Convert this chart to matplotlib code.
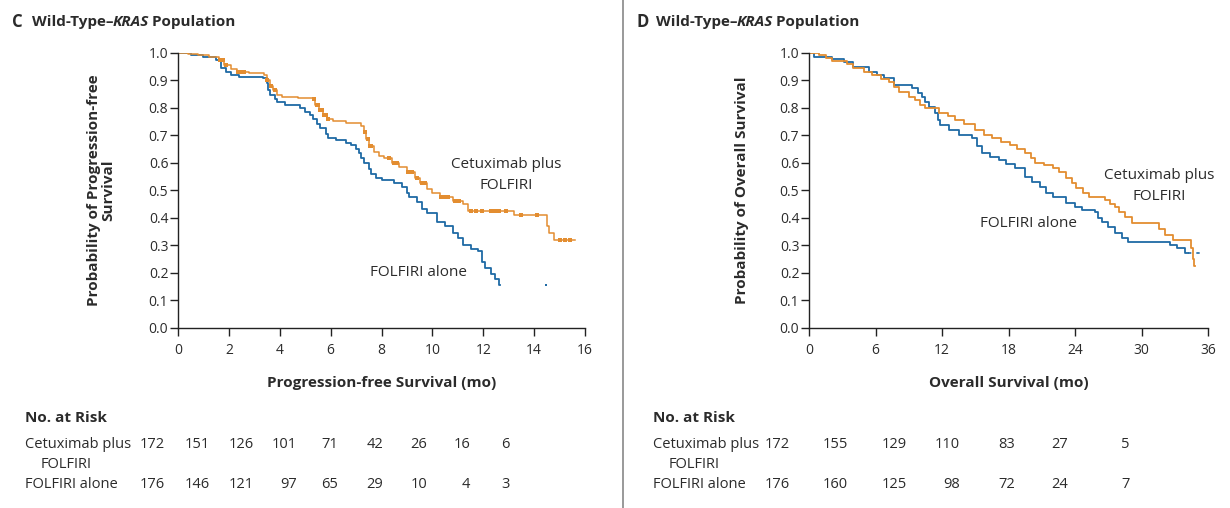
import numpy as np
import matplotlib.pyplot as plt

plt.rcParams['font.family'] = ['Open Sans', 'DejaVu Sans']

# Kaplan-Meier steps (months, probability)
pfs_cetux_t = [0, 0.4, 0.8, 1.2, 1.6, 1.8, 2.1, 2.3, 2.8, 3.4, 3.5, 3.6, 3.75, 3.9, 4.1, 4.7, 5.3,
               5.4, 5.55, 5.7, 5.85, 6.1, 6.6, 7.2, 7.3, 7.4, 7.5, 7.7, 7.9, 8.1, 8.4, 8.7, 9.0,
               9.3, 9.5, 9.8, 10.0, 10.3, 10.8, 11.2, 11.4, 13.2, 14.5, 14.6, 14.8, 15.6]
pfs_cetux_s = [1.0, 0.995, 0.99, 0.985, 0.975, 0.955, 0.94, 0.93, 0.925, 0.918, 0.90, 0.88, 0.865,
               0.845, 0.84, 0.835, 0.83, 0.81, 0.79, 0.775, 0.76, 0.75, 0.745, 0.735, 0.71, 0.685,
               0.66, 0.64, 0.625, 0.615, 0.60, 0.585, 0.565, 0.545, 0.525, 0.505, 0.49, 0.475,
               0.46, 0.45, 0.425, 0.41, 0.37, 0.345, 0.32, 0.32]
pfs_cetux_cens = [1.65, 1.75, 1.9, 2.35, 2.5, 2.6, 3.5, 3.65, 3.8, 5.35, 5.45, 5.5, 5.6, 5.65, 5.75,
                  5.8, 5.9, 7.35, 7.45, 7.55, 7.6, 8.3, 8.5, 8.6, 9.05, 9.2, 9.4, 9.6, 9.7, 10.35,
                  10.5, 10.6, 10.9, 11.05, 11.5, 11.7, 11.95, 12.3, 12.45, 12.6, 12.9, 13.5, 14.1,
                  15.0, 15.2, 15.4]

pfs_folfiri_t = [0, 0.5, 1.0, 1.5, 1.7, 1.9, 2.1, 2.4, 3.35, 3.5, 3.55, 3.62, 3.8, 3.9, 4.2, 4.8,
                 5.0, 5.2, 5.3, 5.45, 5.6, 5.8, 5.9, 6.2, 6.6, 6.8, 7.0, 7.1, 7.2, 7.3, 7.5, 7.6,
                 7.8, 8.0, 8.5, 8.8, 9.0, 9.1, 9.4, 9.6, 9.8, 10.2, 10.5, 10.8, 11.0, 11.2, 11.5,
                 11.8, 11.95, 12.05, 12.3, 12.45, 12.6, 12.65]
pfs_folfiri_s = [1.0, 0.99, 0.984, 0.973, 0.944, 0.93, 0.918, 0.911, 0.907, 0.89, 0.865, 0.845,
                 0.83, 0.82, 0.81, 0.80, 0.784, 0.772, 0.76, 0.74, 0.726, 0.705, 0.69, 0.682,
                 0.67, 0.664, 0.65, 0.635, 0.615, 0.598, 0.575, 0.56, 0.545, 0.536, 0.525, 0.51,
                 0.49, 0.475, 0.455, 0.43, 0.415, 0.385, 0.37, 0.345, 0.325, 0.30, 0.285, 0.28,
                 0.24, 0.215, 0.195, 0.175, 0.155, 0.155]
pfs_folfiri_last = (14.45, 0.155)

os_cetux_t = [0, 0.9, 1.5, 2.1, 3.4, 4.0, 5.0, 5.7, 6.5, 7.2, 7.7, 8.1, 9.0, 9.6, 10.0, 10.5, 11.7,
              12.5, 13.2, 14.0, 15.0, 15.8, 16.5, 17.3, 18.1, 18.8, 19.5, 20.0, 20.4, 21.2, 22.0,
              22.6, 23.2, 23.7, 24.1, 24.7, 25.3, 26.7, 27.2, 27.6, 28.0, 28.5, 29.1, 31.6, 32.1,
              32.8, 34.5, 34.65, 34.75, 34.8]
os_cetux_s = [1.0, 0.99, 0.98, 0.97, 0.96, 0.945, 0.93, 0.918, 0.905, 0.893, 0.875, 0.856, 0.84,
              0.827, 0.81, 0.798, 0.78, 0.768, 0.755, 0.74, 0.718, 0.70, 0.689, 0.675, 0.664, 0.65,
              0.635, 0.615, 0.598, 0.59, 0.58, 0.565, 0.544, 0.525, 0.507, 0.49, 0.475, 0.464,
              0.45, 0.438, 0.42, 0.402, 0.38, 0.36, 0.336, 0.318, 0.29, 0.25, 0.225, 0.225]

os_folfiri_t = [0, 0.45, 2.1, 3.2, 4.0, 5.4, 6.1, 6.8, 7.7, 9.3, 9.8, 10.2, 10.5, 10.8, 11.4, 11.6,
                11.8, 12.6, 13.5, 14.7, 15.2, 15.6, 16.3, 17.1, 17.8, 18.6, 19.5, 20.1, 20.8, 21.4,
                22.0, 23.2, 24.0, 24.6, 25.8, 26.1, 26.4, 27.0, 27.6, 28.2, 28.8, 32.6, 33.2, 33.9,
                34.2]
os_folfiri_s = [1.0, 0.984, 0.978, 0.966, 0.947, 0.93, 0.92, 0.907, 0.882, 0.87, 0.855, 0.838,
                0.82, 0.802, 0.78, 0.755, 0.736, 0.718, 0.70, 0.689, 0.66, 0.635, 0.62, 0.609,
                0.595, 0.58, 0.547, 0.53, 0.51, 0.49, 0.475, 0.453, 0.44, 0.427, 0.42, 0.40,
                0.384, 0.365, 0.344, 0.325, 0.311, 0.30, 0.289, 0.271, 0.271]
os_folfiri_tail = [34.2, 35.6]

# numbers at risk
pfs_risk_cetux = [172, 151, 126, 101, 71, 42, 26, 16, 6]
pfs_risk_folfiri = [176, 146, 121, 97, 65, 29, 10, 4, 3]
os_risk_cetux = [172, 155, 129, 110, 83, 27, 5]
os_risk_folfiri = [176, 160, 125, 98, 72, 24, 7]

BLUE = '#1f6aa5'
ORANGE = '#e38d30'
TXT = '#2b2b2b'
W, H = 1230, 508
FS = 10.5

fig = plt.figure(figsize=(12.3, 5.08), dpi=100)


def px_axes(x0, x1, y0, y1):
    return fig.add_axes([x0 / W, 1 - y1 / H, (x1 - x0) / W, (y1 - y0) / H])


def style_axes(ax, xmax, xstep):
    for s in ['top', 'right']:
        ax.spines[s].set_visible(False)
    for s in ['left', 'bottom']:
        ax.spines[s].set_color('#222222')
        ax.spines[s].set_linewidth(1.0)
    ax.set_ylim(0, 1.0)
    ax.set_xlim(0, xmax)
    ax.set_yticks(np.arange(0, 1.01, 0.1))
    ax.set_yticklabels([f'{v:.1f}' for v in np.arange(0, 1.01, 0.1)])
    ax.set_xticks(np.arange(0, xmax + 0.1, xstep))
    ax.tick_params(axis='both', direction='out', length=6, width=1.0, color='#222222',
                   labelsize=10, labelcolor=TXT, pad=1)
    ax.tick_params(axis='x', pad=5)


def fx(px):
    return px / W


def fy(py):
    return 1 - py / H


def title(x, y, letter):
    r = fig.canvas.get_renderer()
    fig.text(fx(x), fy(y), letter, fontsize=12, fontweight='bold', color=TXT, va='center')
    xx = x + 20
    for s, st in [('Wild-Type–', 'normal'), ('KRAS', 'italic'), (' Population', 'normal')]:
        t = fig.text(fx(xx), fy(y), s, fontsize=11, fontweight='bold', fontstyle=st,
                     color=TXT, va='center')
        xx = t.get_window_extent(r).x1 - 1


def risk_table(x_label, right_edges, cetux, folfiri):
    fig.text(fx(x_label), fy(418), 'No. at Risk', fontsize=FS + 0.5, fontweight='bold',
             color=TXT, va='center')
    fig.text(fx(x_label), fy(445), 'Cetuximab plus', fontsize=FS, color=TXT, va='center')
    fig.text(fx(x_label + 16), fy(464), 'FOLFIRI', fontsize=FS, color=TXT, va='center')
    fig.text(fx(x_label), fy(485), 'FOLFIRI alone', fontsize=FS, color=TXT, va='center')
    for xr, a, b in zip(right_edges, cetux, folfiri):
        fig.text(fx(xr), fy(445), str(a), fontsize=FS, color=TXT, va='center', ha='right')
        fig.text(fx(xr), fy(485), str(b), fontsize=FS, color=TXT, va='center', ha='right')


# ---- panel C : progression-free survival
ax1 = px_axes(178, 585, 52.7, 327.5)
style_axes(ax1, 16, 2)
ax1.step(pfs_folfiri_t, pfs_folfiri_s, where='post', color=BLUE, lw=1.3)
ax1.step(pfs_cetux_t, pfs_cetux_s, where='post', color=ORANGE, lw=1.1)
cens_y = [pfs_cetux_s[np.searchsorted(pfs_cetux_t, c, side='right') - 1] for c in pfs_cetux_cens]
ax1.plot(pfs_cetux_cens, cens_y, ls='none', marker='s', ms=2.6, color=ORANGE, mew=0)
ax1.plot([pfs_folfiri_last[0]], [pfs_folfiri_last[1]], ls='none', marker='s', ms=1.8,
         color=BLUE, mew=0)
ax1.text(12.9, 0.555, 'Cetuximab plus\nFOLFIRI', fontsize=11, color=TXT, ha='center',
         va='center', linespacing=1.55)
ax1.text(9.45, 0.20, 'FOLFIRI alone', fontsize=11, color=TXT, ha='center', va='center')
ax1.set_xlabel('Progression-free Survival (mo)', fontsize=11, fontweight='bold', color=TXT,
               labelpad=13)
ax1.set_ylabel('Probability of Progression-free\nSurvival', fontsize=11, fontweight='bold',
               color=TXT, labelpad=24, linespacing=1.0)

# ---- panel D : overall survival
ax2 = px_axes(809, 1208, 52.7, 327.5)
style_axes(ax2, 36, 6)
ax2.step(os_folfiri_t, os_folfiri_s, where='post', color=BLUE, lw=1.3)
ax2.plot(os_folfiri_tail, [os_folfiri_s[-1]] * 2, color=BLUE, lw=1.2, ls=(0, (2, 3)))
ax2.step(os_cetux_t, os_cetux_s, where='post', color=ORANGE, lw=1.3)
ax2.text(31.6, 0.515, 'Cetuximab plus\nFOLFIRI', fontsize=11, color=TXT, ha='center',
         va='center', linespacing=1.55)
ax2.text(19.8, 0.38, 'FOLFIRI alone', fontsize=11, color=TXT, ha='center', va='center')
ax2.set_xlabel('Overall Survival (mo)', fontsize=11, fontweight='bold', color=TXT, labelpad=13)
ax2.set_ylabel('Probability of Overall Survival', fontsize=11, fontweight='bold', color=TXT,
               labelpad=22)

# separator line
fig.add_artist(plt.Line2D([fx(623), fx(623)], [0, 1], color='#888888', lw=1.2,
                          transform=fig.transFigure))

title(12, 22, 'C')
title(636, 22, 'D')

risk_table(25, [165, 210, 254, 297, 338, 383, 427, 470, 510], pfs_risk_cetux, pfs_risk_folfiri)
risk_table(653, [790, 848, 907, 960, 1015, 1068, 1130], os_risk_cetux, os_risk_folfiri)

fig.savefig('out.png', dpi=100)
